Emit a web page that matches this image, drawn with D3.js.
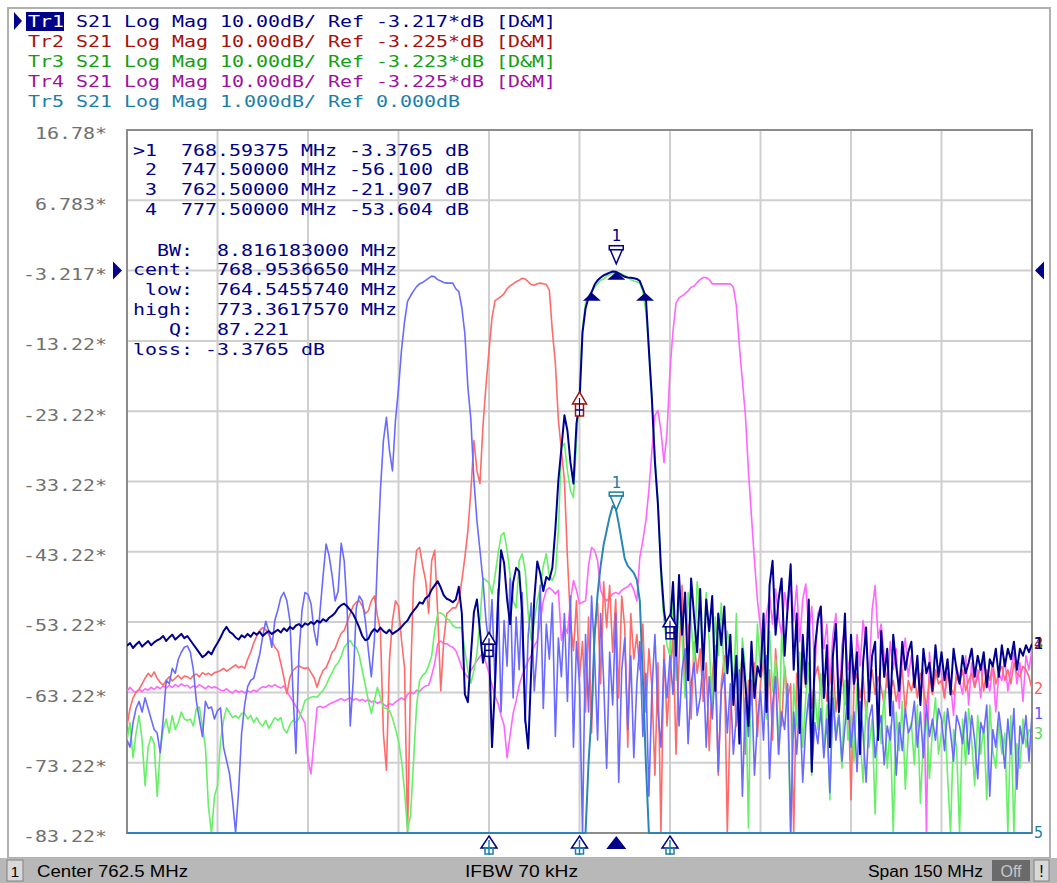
<!DOCTYPE html>
<html>
<head>
<meta charset="utf-8">
<script src="https://cdn.jsdelivr.net/npm/d3@7"></script>
<style>
  body { margin: 0; background: #fff; }
  svg { display: block; }
  text { white-space: pre; }
</style>
</head>
<body>
<svg id="chart" width="1057" height="883"></svg>
<script>
// sweep: 687.5 .. 837.5 MHz, 0.5 MHz per point (301 points)
const fStart = 687.5, fStep = 0.5;
const centerMHz = 762.5, spanMHz = 150;

// Tr1 S21 data (dB) - the same S21 sweep is shown by Tr5 at 1 dB/div
const tr1Data = [
  -56.6,-56.2,-56.9,-56.4,-56.0,-56.7,-56.3,-55.9,-56.5,-56.1,
  -55.8,-55.6,-55.2,-55.9,-55.4,-55.0,-55.7,-55.3,-54.9,-55.5,
  -55.2,-55.8,-56.4,-57.0,-57.6,-58.2,-57.9,-57.4,-57.8,-56.9,
  -56.2,-55.4,-54.5,-53.9,-54.6,-54.9,-55.4,-55.7,-55.1,-55.4,
  -54.9,-55.3,-54.7,-55.0,-54.6,-55.2,-54.8,-54.5,-54.9,-54.6,
  -54.3,-54.7,-54.1,-54.5,-53.9,-54.2,-53.7,-53.5,-53.9,-53.4,
  -53.6,-53.2,-53.5,-53.0,-53.3,-52.8,-53.1,-52.6,-52.3,-51.9,
  -51.2,-50.8,-50.6,-51.0,-51.5,-52.1,-53.0,-54.0,-55.2,-55.8,
  -55.6,-54.7,-54.2,-54.6,-54.0,-54.5,-54.8,-54.3,-54.9,-54.6,
  -54.3,-53.9,-53.4,-53.0,-52.2,-51.6,-51.1,-50.4,-50.6,-49.8,
  -49.5,-48.6,-48.0,-47.4,-48.3,-49.4,-49.9,-50.1,-50.4,-50.0,
  -48.2,-52.0,-63.5,-64.6,-58.0,-51.8,-50.0,-54.5,-59.0,-56.3,
  -56.1,-71.0,-62.0,-50.5,-43.0,-44.8,-50.0,-53.5,-47.6,-45.5,
  -46.0,-52.0,-67.0,-71.2,-60.0,-50.0,-44.6,-46.3,-48.8,-46.8,
  -47.2,-45.5,-40.0,-33.0,-28.5,-23.8,-26.0,-30.5,-33.5,-25.0,
  -21.9,-12.0,-8.6,-7.0,-6.3,-5.2,-4.6,-4.2,-3.9,-3.7,
  -3.5,-3.35,-3.38,-3.6,-3.85,-4.1,-4.2,-4.25,-4.3,-4.4,
  -4.7,-5.8,-7.0,-14.5,-21.5,-30.5,-36.5,-45.5,-51.5,-54.5,
  -53.6,-47.5,-58.0,-46.5,-55.0,-49.0,-61.5,-47.0,-52.5,-57.5,
  -48.5,-60.0,-50.0,-54.5,-49.5,-63.0,-52.0,-56.5,-51.0,-60.5,
  -55.0,-65.0,-58.0,-70.5,-57.0,-62.0,-68.0,-56.0,-64.0,-59.5,
  -61.0,-52.0,-66.0,-48.0,-44.5,-55.0,-50.0,-47.0,-58.0,-51.0,
  -45.0,-60.0,-52.0,-69.0,-55.0,-62.0,-50.0,-74.5,-57.0,-53.0,
  -51.0,-64.0,-56.5,-71.0,-58.0,-53.5,-66.0,-60.0,-52.0,-67.0,
  -55.0,-62.0,-57.5,-72.0,-59.0,-54.0,-64.5,-58.0,-56.0,-70.0,
  -54.5,-61.0,-57.0,-66.5,-55.0,-59.5,-63.0,-56.0,-60.0,-57.5,
  -56.0,-62.5,-58.0,-65.0,-57.0,-60.5,-59.0,-63.0,-56.5,-61.0,
  -57.5,-61.5,-58.5,-63.5,-57.0,-60.0,-62.0,-58.0,-60.5,-59.0,
  -57.0,-61.0,-58.0,-60.0,-57.5,-62.5,-58.5,-59.5,-57.0,-61.0,
  -56.5,-59.5,-57.0,-58.5,-56.0,-60.0,-57.0,-58.0,-56.5,-57.5,-56.3
];

// memory traces (dB)
const tr1Mem = [
  -70.0,-71.0,-67.5,-65.5,-64.5,-66.0,-64.0,-65.5,-67.0,-68.5,
  -69.0,-71.8,-67.0,-61.5,-62.0,-59.8,-60.5,-58.5,-57.5,-56.8,
  -56.6,-57.5,-60.0,-64.5,-67.0,-69.5,-64.5,-65.5,-65.3,-67.0,
  -65.8,-65.4,-71.0,-72.9,-74.8,-78.6,-83.5,-77.2,-69.0,-65.0,
  -62.4,-61.5,-61.2,-59.5,-57.8,-55.2,-53.1,-54.5,-56.8,-53.0,
  -51.5,-49.7,-49.0,-50.2,-53.0,-63.0,-71.9,-57.8,-51.6,-49.0,
  -49.3,-50.6,-54.4,-56.5,-51.6,-46.6,-42.1,-43.8,-46.6,-50.2,
  -48.8,-42.0,-44.5,-51.6,-68.0,-61.5,-51.2,-49.5,-50.2,-53.0,
  -57.2,-61.0,-55.8,-44.5,-34.5,-27.4,-24.1,-28.8,-31.7,-24.5,
  -20.0,-14.5,-10.5,-7.6,-6.8,-6.1,-5.5,-5.1,-4.9,-4.6,
  -4.3,-4.0,-4.1,-4.5,-4.7,-4.9,-5.0,-5.0,-5.0,-5.8,
  -6.2,-8.5,-12.2,-19.8,-24.5,-33.0,-38.8,-43.0,-47.3,-53.0,
  -56.5,-50.0,-62.0,-48.5,-66.0,-53.0,-59.5,-47.0,-64.0,-52.5,
  -60.0,-49.0,-67.5,-55.0,-50.5,-63.0,-57.0,-48.0,-65.5,-53.5,
  -58.5,-50.5,-69.5,-55.5,-61.0,-52.0,-64.5,-49.5,-71.0,-56.0,
  -62.0,-83.5,-55.0,-66.0,-49.5,-58.0,-70.0,-52.0,-61.5,-74.0,
  -57.5,-65.0,-52.0,-76.0,-60.0,-55.5,-68.5,-58.0,-72.5,-62.0,
  -56.0,-69.5,-60.5,-78.0,-63.0,-55.0,-66.0,-71.0,-58.5,-64.0,
  -58.0,-63.5,-55.0,-68.0,-60.0,-57.0,-70.5,-62.0,-59.0,-66.5,
  -64.0,-58.5,-71.0,-61.0,-67.0,-59.5,-74.5,-63.0,-60.5,-69.0,
  -62.0,-72.0,-66.5,-60.0,-78.0,-64.0,-69.5,-61.5,-75.0,-67.0,
  -63.0,-70.0,-58.0,-75.5,-65.0,-61.0,-72.0,-66.0,-68.5,-62.0,
  -83.5,-66.0,-72.0,-64.5,-76.0,-68.0,-63.5,-74.0,-67.5,-70.5,
  -65.5,-72.5,-67.0,-77.5,-64.0,-70.0,-66.5,-73.0,-68.0,-63.5,
  -71.0,-66.0,-74.5,-64.5,-69.0,-76.0,-67.0,-65.0,-72.5,-68.5,
  -66.5,-73.5,-68.0,-70.0,-64.5,-75.0,-67.5,-71.5,-65.5,-69.0,
  -68.0,-64.5,-71.0,-66.0,-72.5,-65.0,-69.5,-67.0,-70.0,-65.5,
  -67.0,-71.5,-65.5,-69.0,-73.0,-66.5,-68.0,-70.5,-66.0,-72.0,
  -66.5,-70.0,-75.5,-67.5,-69.0,-65.0,-78.0,-68.5,-71.0,-66.0,
  -69.5,-74.0,-67.0,-72.0,-65.5,-77.0,-68.0,-70.5,-66.5,-73.0,-66.3
];

const tr2Mem = [
  -68.0,-65.5,-64.0,-63.2,-62.8,-62.0,-61.2,-60.5,-61.0,-60.3,
  -61.2,-61.8,-62.2,-61.5,-61.0,-61.6,-61.2,-60.8,-61.3,-60.9,
  -61.0,-61.3,-60.8,-60.6,-61.0,-60.4,-60.7,-60.5,-60.8,-60.4,
  -60.3,-60.1,-59.8,-60.2,-59.9,-59.6,-59.3,-59.7,-59.5,-59.8,
  -58.5,-57.5,-56.2,-55.2,-54.4,-54.0,-54.3,-55.0,-55.8,-56.8,
  -57.3,-59.1,-61.1,-63.4,-61.1,-60.1,-59.7,-59.4,-59.7,-59.8,
  -59.7,-60.4,-61.1,-62.5,-61.1,-60.1,-59.7,-58.7,-57.5,-57.0,
  -55.8,-54.8,-54.4,-53.2,-52.0,-50.9,-50.4,-50.2,-50.9,-52.0,
  -51.6,-50.2,-49.5,-52.3,-54.4,-69.1,-74.3,-58.7,-53.0,-50.2,
  -50.9,-55.8,-59.7,-84.0,-61.5,-47.3,-43.0,-42.6,-45.2,-47.3,
  -52.0,-44.5,-43.0,-52.0,-63.0,-55.8,-52.0,-51.6,-51.2,-51.2,
  -50.2,-47.3,-44.0,-40.2,-34.5,-27.4,-31.7,-33.5,-25.3,-19.6,
  -14.6,-9.9,-7.5,-7.2,-6.9,-6.5,-5.8,-5.4,-5.1,-4.8,
  -4.6,-4.3,-4.4,-4.8,-5.2,-5.3,-5.1,-5.0,-5.1,-5.2,
  -6.0,-11.8,-16.4,-24.5,-28.8,-33.1,-44.0,-53.0,-57.3,-50.2,
  -61.0,-56.0,-66.0,-52.5,-69.0,-55.0,-50.5,-62.0,-47.5,-54.0,
  -48.0,-57.5,-50.0,-64.0,-49.5,-54.0,-71.0,-52.0,-58.5,-55.0,
  -60.0,-53.5,-66.0,-57.0,-62.5,-75.0,-59.0,-84.0,-56.5,-68.0,
  -61.0,-55.0,-72.0,-58.5,-48.0,-63.0,-53.5,-67.0,-56.0,-60.5,
  -57.0,-64.5,-59.0,-71.5,-61.0,-56.5,-75.0,-62.0,-58.0,-84.0,
  -66.0,-60.5,-68.0,-63.0,-57.5,-72.0,-61.5,-65.0,-59.0,-69.5,
  -62.0,-58.5,-66.5,-60.0,-70.0,-57.0,-63.5,-68.0,-59.5,-64.0,
  -62.0,-84.0,-60.5,-64.0,-58.5,-62.5,-60.0,-65.5,-61.0,-59.5,
  -63.0,-60.5,-64.5,-61.5,-59.0,-66.0,-62.0,-60.0,-65.0,-61.5,
  -78.5,-62.0,-60.5,-64.0,-61.0,-66.5,-62.5,-60.0,-63.5,-61.0,
  -62.5,-65.0,-60.5,-63.0,-61.5,-64.5,-62.0,-60.0,-66.0,-61.5,
  -63.0,-61.0,-64.0,-60.5,-62.5,-65.5,-61.0,-63.5,-60.0,-62.0,
  -61.5,-64.0,-60.5,-62.5,-63.5,-61.0,-62.0,-60.0,-63.0,-61.5,
  -60.5,-62.5,-61.0,-59.5,-63.0,-60.0,-61.5,-59.0,-62.0,-60.5,
  -59.5,-61.5,-60.0,-62.0,-59.0,-60.5,-61.0,-59.5,-60.0,-61.0,-62.7
];

const tr3Mem = [
  -70.0,-67.5,-72.5,-69.0,-66.5,-70.0,-76.5,-71.0,-69.5,-70.5,
  -78.0,-71.5,-68.5,-67.0,-69.0,-66.5,-68.5,-67.5,-66.0,-67.0,
  -67.2,-67.0,-68.0,-65.5,-65.3,-68.0,-71.0,-79.5,-83.5,-78.0,
  -76.5,-70.1,-67.2,-65.4,-66.1,-66.8,-66.5,-66.9,-66.2,-66.2,
  -67.0,-66.5,-67.5,-66.8,-67.6,-68.0,-67.2,-68.3,-67.6,-66.8,
  -67.2,-66.8,-68.5,-69.0,-67.8,-67.2,-67.5,-66.9,-65.8,-64.4,
  -64.1,-63.9,-63.8,-63.9,-63.4,-62.9,-62.2,-61.2,-60.4,-59.5,
  -59.0,-58.1,-56.8,-56.3,-55.8,-56.6,-56.8,-58.0,-60.1,-62.2,
  -64.4,-66.2,-64.4,-62.5,-63.9,-65.4,-65.5,-65.8,-66.9,-68.4,
  -70.1,-72.9,-77.2,-82.9,-80.7,-72.9,-65.1,-61.5,-60.8,-60.4,
  -59.4,-58.0,-54.4,-52.0,-51.9,-52.2,-52.7,-53.0,-53.7,-54.0,
  -54.0,-54.0,-57.3,-60.1,-61.9,-60.1,-57.7,-53.0,-46.9,-47.3,
  -47.6,-49.2,-46.6,-43.5,-40.9,-40.5,-43.0,-46.6,-50.2,-51.2,
  -44.5,-43.5,-45.9,-52.0,-55.8,-53.0,-50.2,-48.3,-45.2,-43.5,
  -46.6,-47.3,-46.2,-40.2,-28.4,-27.8,-31.7,-34.5,-35.5,-27.4,
  -20.5,-11.5,-7.8,-7.0,-6.2,-5.6,-5.1,-4.6,-4.4,-4.0,
  -3.8,-3.6,-3.4,-3.5,-3.7,-3.9,-4.2,-4.5,-4.7,-4.8,
  -5.0,-6.2,-9.0,-14.0,-21.0,-29.5,-36.0,-47.0,-53.0,-56.5,
  -58.0,-50.0,-61.5,-48.5,-55.5,-64.0,-49.0,-53.0,-59.5,-47.5,
  -51.5,-60.0,-49.0,-56.0,-66.5,-52.5,-58.0,-50.5,-62.0,-54.5,
  -57.0,-63.5,-52.0,-69.0,-55.5,-60.0,-82.5,-58.0,-64.0,-53.5,
  -61.0,-56.0,-67.0,-54.5,-63.0,-58.5,-72.0,-55.0,-60.5,-66.0,
  -83.5,-62.0,-68.0,-57.5,-71.0,-64.0,-59.0,-75.0,-63.0,-68.5,
  -60.5,-72.0,-65.0,-78.5,-62.5,-69.0,-66.0,-74.0,-61.5,-70.0,
  -66.5,-73.0,-62.0,-69.5,-76.0,-64.5,-71.0,-67.0,-80.5,-65.0,
  -70.5,-63.0,-74.0,-68.0,-83.5,-66.0,-71.5,-64.5,-77.0,-69.0,
  -67.5,-73.5,-65.0,-79.0,-70.0,-66.5,-75.5,-68.5,-64.0,-72.0,
  -69.0,-66.0,-75.0,-83.5,-68.5,-71.0,-83.5,-67.0,-73.5,-65.5,
  -70.0,-76.5,-66.5,-72.0,-68.0,-78.5,-65.0,-71.5,-74.0,-67.5,
  -72.0,-69.0,-83.5,-66.5,-83.5,-70.5,-74.0,-67.0,-71.0,-68.5,-69.2
];

const tr4Mem = [
  -63.0,-62.5,-63.0,-63.2,-62.8,-63.1,-62.7,-62.9,-62.5,-62.8,
  -62.4,-62.7,-62.3,-62.6,-62.2,-62.5,-62.1,-62.4,-62.0,-62.3,
  -62.2,-62.6,-62.3,-62.5,-62.1,-62.4,-62.7,-62.3,-62.6,-62.4,
  -62.6,-62.9,-63.0,-62.7,-63.1,-63.3,-62.9,-63.2,-63.0,-63.3,
  -63.0,-63.2,-62.9,-63.1,-62.7,-62.4,-62.5,-62.2,-62.4,-62.1,
  -62.4,-62.6,-62.3,-63.1,-63.8,-64.5,-65.2,-65.9,-66.8,-67.6,
  -72.9,-74.8,-70.1,-65.4,-65.2,-65.4,-65.2,-64.9,-64.7,-64.5,
  -64.3,-64.1,-64.4,-64.2,-64.0,-64.3,-64.1,-64.4,-64.2,-64.5,
  -64.2,-64.6,-64.4,-64.8,-64.5,-64.9,-65.2,-64.8,-65.0,-64.6,
  -64.3,-64.0,-64.3,-63.5,-63.2,-63.4,-62.9,-63.1,-62.6,-62.3,
  -62.2,-60.8,-59.1,-56.3,-55.9,-56.3,-56.3,-56.6,-56.8,-57.3,
  -58.4,-59.7,-60.5,-61.1,-60.1,-59.4,-58.7,-58.1,-57.7,-59.0,
  -60.5,-62.2,-63.7,-64.8,-66.5,-67.9,-72.5,-69.3,-66.2,-64.4,
  -62.2,-60.8,-59.7,-58.7,-58.0,-56.6,-55.9,-53.0,-50.2,-48.7,
  -48.3,-48.7,-49.2,-48.7,-55.8,-53.7,-54.8,-50.2,-47.3,-48.7,
  -50.6,-50.4,-50.2,-45.2,-42.6,-43.0,-44.5,-48.7,-49.7,-50.2,
  -49.7,-49.2,-49.0,-49.2,-48.7,-48.4,-48.2,-47.7,-48.7,-50.2,
  -44.0,-41.6,-38.8,-34.5,-28.8,-23.8,-23.1,-26.0,-30.5,-26.3,
  -17.4,-11.8,-7.8,-7.1,-6.8,-6.5,-6.1,-5.6,-5.4,-4.9,
  -4.5,-4.2,-4.2,-4.5,-5.1,-5.1,-5.1,-5.1,-5.1,-5.1,
  -5.1,-5.6,-8.2,-13.9,-18.9,-23.8,-31.7,-38.1,-44.5,-50.2,
  -54.0,-57.5,-52.0,-49.5,-53.5,-48.5,-52.5,-55.0,-49.0,-51.5,
  -47.5,-53.0,-48.0,-56.0,-50.0,-47.8,-54.5,-51.0,-60.5,-52.0,
  -51.0,-57.0,-53.5,-62.0,-55.0,-52.0,-66.0,-56.5,-54.0,-60.0,
  -57.5,-63.0,-55.0,-59.5,-53.0,-56.0,-61.0,-51.5,-48.0,-55.5,
  -53.5,-58.0,-62.5,-56.0,-60.0,-57.0,-65.5,-58.5,-55.5,-61.0,
  -58.0,-62.0,-59.0,-64.5,-60.0,-83.5,-57.5,-63.0,-61.0,-59.5,
  -60.5,-64.0,-58.5,-62.0,-66.5,-59.5,-61.5,-63.5,-58.0,-65.0,
  -59.0,-62.5,-60.0,-64.0,-58.5,-61.0,-63.0,-59.5,-66.0,-60.5,
  -61.5,-58.5,-63.0,-60.0,-57.5,-62.0,-59.0,-64.5,-58.0,-60.0,-57.0
];

// scale settings per trace: ref level (dB), dB per division, ref position (div from bottom)
const tr1Scale = { ref: -3.217, perDiv: 10, pos: 8 };
const tr5Scale = { ref: 0, perDiv: 1, pos: 8 };

const yTickValues = [16.783, 6.783, -3.217, -13.217, -23.217, -33.217, -43.217, -53.217, -63.217, -73.217, -83.217];
const yTickLabels = ["16.78*", "6.783*", "-3.217*", "-13.22*", "-23.22*", "-33.22*", "-43.22*", "-53.22*", "-63.22*", "-73.22*", "-83.22*"];

const headerNames = ["Tr1", "Tr2", "Tr3", "Tr4", "Tr5"];
const headerSettings = [
  " S21 Log Mag 10.00dB/ Ref -3.217*dB [D&M]",
  " S21 Log Mag 10.00dB/ Ref -3.225*dB [D&M]",
  " S21 Log Mag 10.00dB/ Ref -3.223*dB [D&M]",
  " S21 Log Mag 10.00dB/ Ref -3.225*dB [D&M]",
  " S21 Log Mag 1.000dB/ Ref 0.000dB"
];
const headerColors = ["#000088", "#a8100c", "#10a010", "#a010a0", "#1a7fa8"];

const markerFreqs = [768.59375, 747.5, 762.5, 777.5];
const markerValues = [-3.3765, -56.100, -21.907, -53.604];
const markerRows = [
  ">1  768.59375 MHz -3.3765 dB",
  " 2  747.50000 MHz -56.100 dB",
  " 3  762.50000 MHz -21.907 dB",
  " 4  777.50000 MHz -53.604 dB"
];
const bwFreqs = [764.545574, 773.361757];
const bwRows = [
  "  BW:  8.816183000 MHz",
  "cent:  768.9536650 MHz",
  " low:  764.5455740 MHz",
  "high:  773.3617570 MHz",
  "   Q:  87.221",
  "loss: -3.3765 dB"
];
const statusTexts = ["Center 762.5 MHz", "IFBW 70 kHz", "Span 150 MHz"];

// ---------------------------------------------------------------
const svg = d3.select("#chart");
const W = 1057, H = 883;
const plot = { left: 127, top: 130, right: 1032, bottom: 833 };
const MONO = "'DejaVu Sans Mono', monospace";
const CH = 12; // px per character of the analyser font

const x = d3.scaleLinear()
  .domain([centerMHz - spanMHz / 2, centerMHz + spanMHz / 2])
  .range([plot.left, plot.right]);

function yScaleFor(s) {
  return d3.scaleLinear()
    .domain([s.ref - s.pos * s.perDiv, s.ref + (10 - s.pos) * s.perDiv])
    .range([plot.bottom, plot.top])
    .clamp(true);
}
const y = yScaleFor(tr1Scale);
const y5 = yScaleFor(tr5Scale);

const freqs = tr1Data.map((_, i) => fStart + i * fStep);

function monoText(g, str, px, py, color, size) {
  return g.append("text")
    .attr("x", px).attr("y", py)
    .attr("dominant-baseline", "central")
    .attr("font-family", MONO)
    .attr("font-size", size || 16)
    .attr("fill", color)
    .attr("textLength", str.length * CH)
    .attr("lengthAdjust", "spacingAndGlyphs")
    .text(str);
}

// outer frame
svg.append("rect").attr("width", W).attr("height", H).attr("fill", "#fff");
svg.append("rect")
  .attr("x", 8).attr("y", 8).attr("width", 1042).attr("height", 850)
  .attr("fill", "none").attr("stroke", "#b0b0b0").attr("stroke-width", 2);

// header
const header = svg.append("g");
header.append("path")
  .attr("d", "M14,12 L22,21 L14,30 Z").attr("fill", "#000088");
header.append("rect")
  .attr("x", 26).attr("y", 12).attr("width", 3 * CH + 2).attr("height", 19)
  .attr("fill", "#000088");
headerNames.forEach((name, i) => {
  monoText(header, name, 28, 21 + i * 20, i === 0 ? "#fff" : headerColors[i]);
  monoText(header, headerSettings[i], 28 + 3 * CH, 21 + i * 20, headerColors[i]);
});

// grid
const gridX = d3.range(11).map(i => x.domain()[0] + i * spanMHz / 10);
svg.append("g")
  .selectAll("line").data(gridX).join("line")
  .attr("x1", d => x(d)).attr("x2", d => x(d))
  .attr("y1", plot.top).attr("y2", plot.bottom)
  .attr("stroke", "#cfcfcf").attr("stroke-width", 2);
svg.append("g")
  .selectAll("line").data(yTickValues).join("line")
  .attr("x1", plot.left).attr("x2", plot.right)
  .attr("y1", d => y(d)).attr("y2", d => y(d))
  .attr("stroke", "#cfcfcf").attr("stroke-width", 2);

// plot border
svg.append("rect")
  .attr("x", plot.left).attr("y", plot.top)
  .attr("width", plot.right - plot.left).attr("height", plot.bottom - plot.top)
  .attr("fill", "none").attr("stroke", "#8c8c8c").attr("stroke-width", 2);

// left axis labels
const yAxis = svg.append("g")
  .attr("transform", `translate(${plot.left},0)`)
  .call(d3.axisLeft(y).tickValues(yTickValues).tickSize(0).tickPadding(20)
    .tickFormat((d, i) => yTickLabels[i]));
yAxis.select(".domain").remove();
yAxis.selectAll("text")
  .attr("font-family", MONO).attr("font-size", 16).attr("fill", "#707070")
  .attr("dy", "0.55em")
  .attr("textLength", function () { return this.textContent.length * CH; })
  .attr("lengthAdjust", "spacingAndGlyphs");

// reference level arrows
const yRef = y(tr1Scale.ref);
svg.append("path").attr("fill", "#000088")
  .attr("d", `M113,${yRef - 9} L122,${yRef} L113,${yRef + 9} Z`);
svg.append("path").attr("fill", "#000088")
  .attr("d", `M1044,${yRef - 9} L1035,${yRef} L1044,${yRef + 9} Z`);

// marker readout
const readout = svg.append("g");
markerRows.forEach((r, i) => monoText(readout, r, 133, 150 + i * 19.8, "#000088"));
bwRows.forEach((r, i) => monoText(readout, r, 133, 250 + i * 19.8, "#000088"));

// traces
svg.append("clipPath").attr("id", "plotClip")
  .append("rect").attr("x", plot.left).attr("y", plot.top - 2)
  .attr("width", plot.right - plot.left).attr("height", plot.bottom - plot.top + 4);

const traces = [
  { data: tr4Mem, color: "#ff66ff", width: 1.6, scale: y },
  { data: tr2Mem, color: "#ff6a6a", width: 1.6, scale: y },
  { data: tr3Mem, color: "#66f066", width: 1.6, scale: y },
  { data: tr1Mem, color: "#6a6aff", width: 1.6, scale: y },
  { data: tr1Data, color: "#000090", width: 2, scale: y },
  { data: tr1Data, color: "#2a86b4", width: 2, scale: y5 }
];
const traceG = svg.append("g").attr("clip-path", "url(#plotClip)");
traces.forEach(t => {
  const line = d3.line()
    .x((d, i) => x(freqs[i]))
    .y(d => t.scale(d));
  traceG.append("path")
    .datum(t.data)
    .attr("d", line)
    .attr("fill", "none")
    .attr("stroke", t.color)
    .attr("stroke-width", t.width)
    .attr("stroke-linejoin", "round");
});

// value at a frequency (linear between sweep points)
function valueAt(arr, f) {
  const p = (f - fStart) / fStep, i = Math.floor(p), t = p - i;
  return arr[i] + (arr[i + 1] - arr[i]) * t;
}

const mk = svg.append("g");
// hollow stacked marker symbol (several traces' markers on top of each other)
function stackMarker(px, py, outline, inner) {
  mk.append("path")
    .attr("d", `M${px},${py - 10} L${px + 7},${py + 2} L${px - 7},${py + 2} Z`)
    .attr("fill", "#fff").attr("stroke", outline).attr("stroke-width", 1.5);
  mk.append("rect")
    .attr("x", px - 4).attr("y", py + 2).attr("width", 8).attr("height", 12)
    .attr("fill", "#fff").attr("stroke", outline).attr("stroke-width", 1.5);
  mk.append("line").attr("x1", px - 4).attr("x2", px + 4)
    .attr("y1", py + 8).attr("y2", py + 8).attr("stroke", inner).attr("stroke-width", 1.5);
  mk.append("line").attr("x1", px).attr("x2", px)
    .attr("y1", py - 4).attr("y2", py + 14).attr("stroke", inner).attr("stroke-width", 1.2);
}
// active marker: number + hollow down triangle above the point
function activeMarker(px, py, color, label) {
  mk.append("rect")
    .attr("x", px - 7).attr("y", py - 19).attr("width", 14).attr("height", 4)
    .attr("fill", "#fff").attr("stroke", color).attr("stroke-width", 1.5);
  mk.append("path")
    .attr("d", `M${px - 6},${py - 15} L${px + 6},${py - 15} L${px},${py - 1} Z`)
    .attr("fill", "#fff").attr("stroke", color).attr("stroke-width", 1.5);
  mk.append("text")
    .attr("x", px).attr("y", py - 29)
    .attr("text-anchor", "middle").attr("dominant-baseline", "central")
    .attr("font-family", MONO).attr("font-size", 16).attr("fill", color)
    .text(label);
}
function filledUp(px, py, w, h, color) {
  mk.append("path")
    .attr("d", `M${px},${py} L${px + w / 2},${py + h} L${px - w / 2},${py + h} Z`)
    .attr("fill", color);
}

// markers 2..4 on the 10 dB/div traces
stackMarker(x(markerFreqs[1]), y(markerValues[1]), "#000088", "#000088");
stackMarker(x(markerFreqs[2]), y(markerValues[2]), "#a8100c", "#000088");
stackMarker(x(markerFreqs[3]), y(markerValues[3]), "#000088", "#000088");
// marker 1 and bandwidth search points
const m1x = x(markerFreqs[0]);
activeMarker(m1x, y(markerValues[0]) - 7, "#000088", "1");
filledUp(m1x, y(markerValues[0]), 18, 8, "#000088");
bwFreqs.forEach(f => filledUp(x(f), y(markerValues[0] - 3), 18, 8, "#000088"));
// marker 1 on Tr5
activeMarker(m1x, y5(valueAt(tr1Data, markerFreqs[0])), "#1a7fa8", "1");

// Tr5 markers out of range: drawn below the bottom edge
[1, 2, 3].forEach(k => {
  const px = x(markerFreqs[k]);
  mk.append("path")
    .attr("d", `M${px},${plot.bottom + 3} L${px + 8},${plot.bottom + 15} L${px - 8},${plot.bottom + 15} Z`)
    .attr("fill", "#fff").attr("stroke", "#000088").attr("stroke-width", 1.5);
  mk.append("line").attr("x1", px).attr("x2", px)
    .attr("y1", plot.bottom + 7).attr("y2", plot.bottom + 22)
    .attr("stroke", "#1a7fa8").attr("stroke-width", 1.5);
  mk.append("rect")
    .attr("x", px - 4).attr("y", plot.bottom + 15).attr("width", 8).attr("height", 6)
    .attr("fill", "none").attr("stroke", "#1a7fa8").attr("stroke-width", 1.5);
});
filledUp(m1x, plot.bottom + 3, 20, 13, "#000088");

// trace end labels at the right edge
const lastOf = a => a[a.length - 1];
const endLabels = [
  { text: "4", v: lastOf(tr1Data), color: "#a010a0", s: y },
  { text: "3", v: lastOf(tr1Data), color: "#10a010", s: y },
  { text: "2", v: lastOf(tr1Data), color: "#a8100c", s: y },
  { text: "1", v: lastOf(tr1Data), color: "#000088", s: y },
  { text: "2", v: lastOf(tr2Mem), color: "#ff5a5a", s: y },
  { text: "1", v: lastOf(tr1Mem), color: "#5a5aff", s: y },
  { text: "3", v: lastOf(tr3Mem), color: "#55dd55", s: y },
  { text: "5", v: -99, color: "#1a7fa8", s: y5 }
];
endLabels.forEach(l => {
  svg.append("text")
    .attr("x", plot.right + 2).attr("y", l.s(l.v))
    .attr("dominant-baseline", "central")
    .attr("font-family", MONO).attr("font-size", 15).attr("fill", l.color)
    .text(l.text);
});

// status bar
const bar = svg.append("g");
bar.append("rect").attr("x", 0).attr("y", 858).attr("width", W).attr("height", 25).attr("fill", "#b8b8b8");
bar.append("rect").attr("x", 7).attr("y", 860).attr("width", 16).attr("height", 21)
  .attr("fill", "#d8d8d8").attr("stroke", "#808080");
bar.append("text").attr("x", 15).attr("y", 871).attr("text-anchor", "middle")
  .attr("dominant-baseline", "central").attr("font-family", "'Liberation Sans', Arial")
  .attr("font-size", 15).attr("fill", "#000").text("1");
const statusX = [37, 465, 868];
const statusW = [151, 113, 115];
statusTexts.forEach((s, i) => {
  bar.append("text").attr("x", statusX[i]).attr("y", 871)
    .attr("dominant-baseline", "central").attr("font-family", "'Liberation Sans', Arial")
    .attr("font-size", 16).attr("fill", "#000")
    .attr("textLength", statusW[i]).attr("lengthAdjust", "spacingAndGlyphs")
    .text(s);
});
bar.append("rect").attr("x", 992).attr("y", 860).attr("width", 38).attr("height", 21).attr("fill", "#6a6a6a");
bar.append("text").attr("x", 1011).attr("y", 871).attr("text-anchor", "middle")
  .attr("dominant-baseline", "central").attr("font-family", "'Liberation Sans', Arial")
  .attr("font-size", 16).attr("fill", "#c8c8c8").text("Off");
bar.append("rect").attr("x", 1034).attr("y", 860).attr("width", 15).attr("height", 21)
  .attr("fill", "#d8d8d8").attr("stroke", "#808080");
bar.append("text").attr("x", 1041.5).attr("y", 871).attr("text-anchor", "middle")
  .attr("dominant-baseline", "central").attr("font-family", "'Liberation Sans', Arial")
  .attr("font-size", 16).attr("fill", "#000").text("!");
</script>
</body>
</html>
